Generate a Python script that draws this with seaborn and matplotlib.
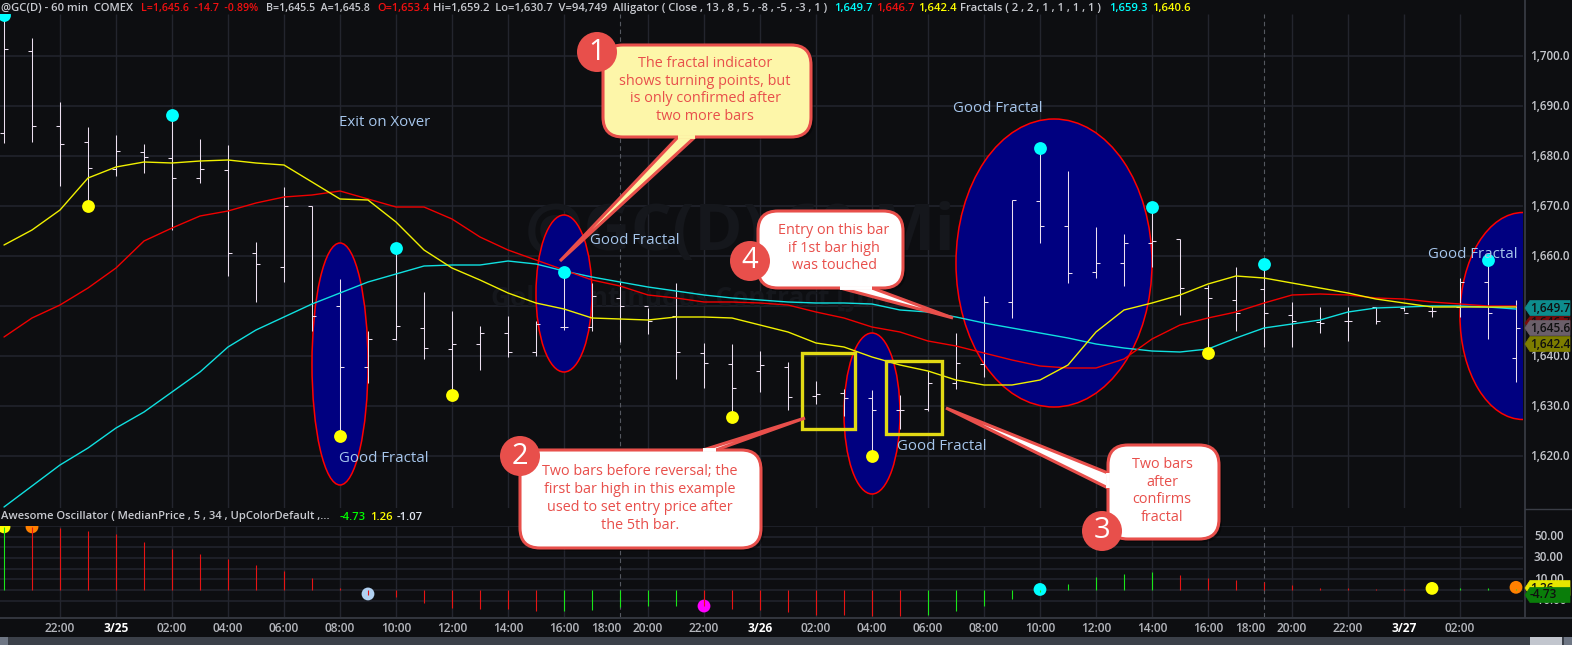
import numpy as np
import pandas as pd
import seaborn as sns
import matplotlib
matplotlib.use("Agg")
import matplotlib.pyplot as plt
from matplotlib.patches import Ellipse, FancyBboxPatch, Polygon, Circle, Rectangle

# ---------- data ----------
highs = [1708.2,1703.6,1690.8,1685.8,1684.3,1682.4,1688.2,1683.4,1682.2,1662.8,1673.8,1670,1655.4,1645,1661.6,1652.8,1649,1646,1648,1647,1656.8,1654.6,1654.8,1649.6,1654.6,1642.6,1642.4,1641,1638.8,1635,1633.4,1633.2,1632.2,1637,1644.6,1652,1671.2,1681.6,1677,1665.8,1664.4,1669.8,1663.4,1654.2,1657.8,1658.4,1650.8,1649.8,1649.8,1649.8,1650,1650,1655.6,1659.2,1651.2]
lows = [1682.6,1682.8,1674,1670,1676,1676.6,1665.2,1674.6,1656,1650.8,1654.8,1645,1624,1634.6,1643.2,1639.4,1632.2,1637.2,1639.8,1640,1645.2,1645,1642.8,1644.4,1635.4,1633.6,1627.8,1632.8,1629.2,1630.4,1628,1620,1625.4,1629,1633.4,1635.8,1647.6,1662.6,1654.6,1655.6,1654,1657.8,1648.2,1640.6,1645,1641.8,1641.8,1644.6,1643,1646.4,1649,1647.8,1647.8,1643.4,1634.8]
opens = [1684.6,1701,1686,1682.8,1677.4,1680.8,1679.6,1675.6,1677.2,1660.6,1657.8,1670,1650,1637.8,1643.4,1645.6,1641.4,1642.4,1644.6,1640.8,1645.8,1645.8,1651.6,1650,1648,1640.6,1638.4,1637,1637.8,1632,1632.6,1631.6,1629.2,1629.4,1634.6,1638.4,1650.8,1671,1666,1656.8,1658.6,1662.6,1663.4,1653.6,1651.2,1653.4,1648.2,1646.8,1647,1649.8,1649.6,1649,1649.8,1654.8,1639.6]
closes = [1701.4,1686,1682.5,1677.6,1681,1679.8,1675.6,1677.4,1660.6,1658.4,1670,1648,1637.8,1643.4,1646,1641.6,1642.4,1644.6,1640.8,1646.4,1645.8,1652,1650,1647,1640.8,1638.6,1633.6,1638.2,1631.8,1632.4,1631.6,1629.2,1629.2,1634.6,1638.6,1650.8,1671.2,1666,1656.6,1658.6,1662.6,1663,1653.6,1651.6,1648.6,1648.6,1647,1646.6,1647,1647,1648.6,1649,1654.8,1648.6,1645.6]
jaw = [1609.8,1614,1618.2,1621.6,1625.6,1628.8,1632.8,1636.8,1641.8,1645.2,1647.8,1650.4,1652.6,1654.8,1656.4,1658,1658.2,1658.2,1659,1658.4,1657,1655.8,1654.8,1653.8,1653,1652.2,1651.6,1651.2,1650.8,1650.6,1650.6,1650.4,1649.2,1648.8,1647.8,1646.6,1645.6,1644.6,1643.6,1642.4,1641.6,1641,1640.8,1641.4,1643.6,1645.6,1646.4,1647.2,1648.8,1649.6,1649.8,1650,1650,1649.8,1649.4]
teeth = [1643.8,1647.6,1650.2,1653.6,1657.6,1663,1665.6,1668,1669,1670.6,1671.8,1672.2,1673,1671.4,1669.8,1669.8,1667.4,1663.8,1661.2,1659.2,1657.2,1655.2,1654,1652.2,1651.6,1650.8,1650.8,1650.6,1650.2,1648.8,1647.6,1645.8,1644.8,1643,1642,1640.6,1639.2,1638,1637.6,1637.6,1639.4,1643.4,1646.2,1647.6,1648.8,1650.6,1652.2,1652.4,1652.2,1651.6,1651.4,1650.8,1650.4,1650,1650]
lips = [1662.2,1665.2,1669.2,1675.6,1677.8,1678.8,1678.6,1679,1679.2,1678.6,1678.2,1674.8,1671.4,1671.2,1666.8,1661.2,1657.6,1655.2,1652.6,1650.6,1649.4,1647.6,1647.4,1647.2,1647.8,1647.8,1647.6,1646.2,1644.8,1642.6,1641.8,1639.8,1638.2,1637,1635.2,1634.2,1634.2,1635.2,1638.2,1644.8,1649.2,1650.6,1652.2,1654.4,1656,1655.6,1654.6,1653.6,1652.6,1651.4,1650.6,1649.8,1649.8,1649.8,1649.8]
ao = [58.6,58.6,58,55.5,52,44.8,38.6,34,29.3,23,17.6,11.4,1.5,-4.6,-7,-11.7,-16.4,-17.3,-17.3,-20,-20,-19,-16,-15.4,-14.5,-15.4,-17.3,-19,-21,-23,-23,-24,-24,-23,-20,-15.4,-8,-2,6,11.7,14.8,16.4,13.9,10.8,9.3,7.7,4.6,2,1.8,0.9,0.6,0.3,1.8,1.8,1.3]
ao_green = [0,20,21,22,23,24,33,34,35,36,37,38,39,40,41,52,53,54]

high_fractal_i = [0,6,14,20,37,41,45,53]
high_fractal_p = [1708.2,1688.2,1661.6,1656.8,1681.6,1669.8,1658.4,1659.2]
low_fractal_i = [3,12,16,26,31,43]
low_fractal_p = [1670,1624,1632.2,1627.8,1620,1640.6]
ao_dot_i = [0,1,13,25,37,51,54]
ao_dot_v = [59,59,-3.7,-15,0.5,1.5,2.5]
ao_dot_c = ["#ffff00","#ff8000","#b0d0f0","#ff00ff","#00ffff","#ffff00","#ff8000"]

tick_pos = [2,4,6,8,10,12,14,16,18,20,21.5,23,25,27,29,31,33,35,37,39,41,43,44.5,46,48,50,52]
tick_lab = ["22:00","3/25","02:00","04:00","06:00","08:00","10:00","12:00","14:00","16:00","18:00","20:00","22:00","3/26","02:00","04:00","06:00","08:00","10:00","12:00","14:00","16:00","18:00","20:00","22:00","3/27","02:00"]
grid_x = [2,4,6,8,10,12,14,16,18,20,23,25,27,29,31,33,35,37,39,41,43,46,48,50,52]
session_x = [22,45]
price_ticks = [1620,1630,1640,1650,1660,1670,1680,1690,1700]
price_labels = ["1,620.0","1,630.0","1,640.0","","1,660.0","1,670.0","1,680.0","1,690.0","1,700.0"]
ao_grid = [-10,0,10,20,30,40,50,60]
ao_ticks = [50,30,10]
ao_labels = ["50.00","30.00","10.00"]

# ---------- styling ----------
W, H = 1572, 645
BG = "#0d0e11"
GRID = "#23252e"
BARC = "#ecdff0"
sns.set_theme(style="dark")
FONT = ["Open Sans", "DejaVu Sans"]
plt.rcParams["font.family"] = FONT

fig = plt.figure(figsize=(W/100, H/100), dpi=100, facecolor=BG)

def add_ax(l, t, r, b):
    return fig.add_axes([l/W, 1-b/H, (r-l)/W, (b-t)/H], facecolor=BG)

n = len(highs)
idx = np.arange(n)
xl = ((0-4)/28, (1523-4)/28)

# ---------- main panel ----------
ax = add_ax(0, 14, 1523, 508)
ax.set_xlim(*xl)
ax.set_ylim(1700-(508-56)/5, 1700-(14-56)/5)
for s in ax.spines.values():
    s.set_visible(False)
ax.set_xticks([]); ax.set_yticks([])
ax.hlines(price_ticks, *xl, color=GRID, lw=1.1, zorder=1)
ax.vlines(grid_x, *ax.get_ylim(), color=GRID, lw=1.0, zorder=1)
ax.vlines(session_x, *ax.get_ylim(), color="#555860", lw=0.8, ls=(0, (4, 3)), zorder=1)

# watermark
ax.text(18.6, 1664.5, "@GC(D) 60 Min", fontsize=47, fontweight="bold", color="#15171c",
        ha="left", va="center", zorder=1.2)
ax.text(17.4, 1651.6, "Gold Continuous Contract [Jun", fontsize=19, fontweight="bold", color="#15171c",
        ha="left", va="center", zorder=1.2)

# ellipses
for cx, cy, w, h in [(12, 1638.4, 2, 48.4), (20, 1652.5, 2, 31.4), (31, 1628.5, 2, 32.2),
                     (37.5, 1658.6, 7, 57.6), (54.25, 1648, 4.5, 41.4)]:
    ax.add_patch(Ellipse((cx, cy), w, h, facecolor="#000080", edgecolor="#ff0000", lw=1.1, zorder=2))

# OHLC bars
ax.vlines(idx, lows, highs, color=BARC, lw=0.75, zorder=3)
ax.hlines(opens, idx-0.16, idx, color=BARC, lw=0.75, zorder=3)
ax.hlines(closes, idx, idx+0.16, color=BARC, lw=0.75, zorder=3)

# alligator
df = pd.DataFrame({"i": idx, "jaw": jaw, "teeth": teeth, "lips": lips})
sns.lineplot(data=df, x="i", y="jaw", color="#10e0e0", lw=1.0, ax=ax, zorder=4)
sns.lineplot(data=df, x="i", y="teeth", color="#f00000", lw=1.0, ax=ax, zorder=4)
sns.lineplot(data=df, x="i", y="lips", color="#f0f000", lw=1.0, ax=ax, zorder=4)
ax.set_xlabel(""); ax.set_ylabel("")
ax.set_xticks([]); ax.set_yticks([])

# fractals
sns.scatterplot(x=high_fractal_i, y=high_fractal_p, color="#00ffff", s=85, linewidth=0, ax=ax, zorder=5)
sns.scatterplot(x=low_fractal_i, y=low_fractal_p, color="#ffff00", s=85, linewidth=0, ax=ax, zorder=5)
ax.set_xlim(*xl)

# ---------- oscillator panel ----------
ax2 = add_ax(0, 526, 1523, 617)
ax2.set_xlim(*xl)
ax2.set_ylim(-(617-590)/1.07, (590-526)/1.07)
for s in ax2.spines.values():
    s.set_visible(False)
ax2.set_yticks([])
ax2.hlines(ao_grid, *xl, color=GRID, lw=1.1, zorder=1)
ax2.vlines(grid_x, *ax2.get_ylim(), color=GRID, lw=1.0, zorder=1)
ax2.vlines(session_x, *ax2.get_ylim(), color="#555860", lw=0.8, ls=(0, (4, 3)), zorder=1)
ao_cols = ["#19e619" if i in ao_green else "#e61414" for i in idx]
ax2.vlines(idx, 0, ao, colors=ao_cols, lw=0.8, zorder=3)
ax2.scatter(ao_dot_i, ao_dot_v, c=ao_dot_c, s=85, linewidths=0, zorder=2.5)
ax2.set_xticks(tick_pos)
ax2.set_xticklabels([])
ax2.tick_params(axis="x", length=0)

# ---------- overlay in pixel coordinates ----------
ov = fig.add_axes([0, 0, 1, 1], facecolor="none")
ov.set_xlim(0, W); ov.set_ylim(H, 0); ov.axis("off")

# axis frame lines
ov.plot([1524.5, 1524.5], [0, 617], color="#3a3d46", lw=1.2, zorder=1)
ov.plot([0, W], [617.5, 617.5], color="#3a3d46", lw=1.2, zorder=1)
ov.plot([1524.5, W], [509, 509], color="#3a3d46", lw=1.0, zorder=1)

# scrollbar
ov.add_patch(Rectangle((0, 637), W, 8, facecolor="#3b4049", lw=0, zorder=1))
ov.add_patch(Rectangle((0, 637), 8, 8, facecolor="#6e7684", lw=0, zorder=1))
ov.add_patch(Rectangle((1530, 637), 32, 8, facecolor="#c2c6ce", lw=0, zorder=1))
ov.add_patch(Rectangle((1564, 637), 8, 8, facecolor="#6e7684", lw=0, zorder=1))

# time labels
for p, lab in zip(tick_pos, tick_lab):
    bold = "/" in lab
    ov.text(4+28*p, 628, lab, ha="center", va="center", fontsize=8.6,
            color="#ffffff" if bold else "#b4b6bc", fontweight="bold" if bold else "semibold")

# price labels
for p, lab in zip(price_ticks, price_labels):
    if lab:
        ov.text(1530, 56+(1700-p)*5, lab, ha="left", va="center", fontsize=8.4,
                color="#c4c6cc", fontweight="semibold")
for p, lab in zip(ao_ticks, ao_labels):
    ov.text(1534, 590-p*1.08, lab, ha="left", va="center", fontsize=8.4,
            color="#c4c6cc", fontweight="semibold")
ov.text(1534, 601, "-10.00", ha="left", va="center", fontsize=8.4, color="#c4c6cc", fontweight="semibold")

def tag(y, txt, fc, z, tc="#101010", h=15, right=1570, x0=1525):
    pts = [(x0, y), (x0+5, y-h/2), (right, y-h/2), (right, y+h/2), (x0+5, y+h/2)]
    ov.add_patch(Polygon(pts, closed=True, facecolor=fc, edgecolor=fc, lw=0.5, zorder=z))
    ov.text(1530, y, txt, ha="left", va="center", fontsize=8.6, color=tc, zorder=z+0.1, fontweight="semibold")

tag(308, "1,649.7", "#0d8d8d", 6)
tag(323, "1,646.7", "#7a0c0c", 6.2, h=13)
tag(328, "1,645.6", "#6b5f6a", 6.4)
tag(344, "1,642.4", "#7d7d00", 6.6)
tag(588, "1.26", "#e6e600", 6)
tag(595, "-4.73", "#0a7d0a", 6.2)

# header
HY = 8.5
def hd(x, s, c, fs=8.1):
    ov.text(x, HY, s, ha="left", va="center", fontsize=fs, color=c, fontweight="semibold", zorder=8)
G = "#c8cad0"
hd(1, "@GC(D) - 60 min  COMEX", G)
hd(141, "L=1,645.6  -14.7  -0.89%", "#f01010", 7.7)
hd(266, "B=1,645.5  A=1,645.8", G, 7.7)
hd(377, "O=1,653.4", "#f01010", 7.9)
hd(433, "Hi=1,659.2  Lo=1,630.7  V=94,749  Alligator ( Close , 13 , 8 , 5 , -8 , -5 , -3 , 1 )", G)
hd(834, "1,649.7", "#00ffff")
hd(876, "1,646.7", "#f01010")
hd(918, "1,642.4", "#ffff00")
hd(960, "Fractals ( 2 , 2 , 1 , 1 , 1 , 1 )", G)
hd(1109, "1,659.3", "#00ffff")
hd(1152, "1,640.6", "#ffff00")
HY = 517
hd(1, "Awesome Oscillator ( MedianPrice , 5 , 34 , UpColorDefault ,...", G)
hd(340, "-4.73", "#00ff00")
hd(370, "1.26", "#ffff00")
hd(397, "-1.07", "#e0e6f0")

# light-blue notes
NOTE = "#a6c6ec"
for x, y, s in [(339, 459, "Good Fractal"), (590, 241, "Good Fractal"), (953, 109, "Good Fractal"),
                (897, 447, "Good Fractal"), (1428, 254, "Good Fractal"), (339, 122, "Exit on Xover")]:
    ov.text(x, y, s, ha="left", va="center", fontsize=10.8, color=NOTE, zorder=6)

# yellow rectangles
for x0, y0, x1, y1 in [(802, 353, 855, 429), (886, 361, 942, 434)]:
    ov.add_patch(Rectangle((x0, y0), x1-x0, y1-y0, fill=False, edgecolor="#e2da14", lw=2.4, zorder=6))

RED = "#e84f4b"
def callout(x0, y0, x1, y1, fc, tail, badge, num, txt, tx, ty, rad=20):
    ov.add_patch(FancyBboxPatch((x0+3, y0+3), x1-x0, y1-y0, boxstyle=f"round,pad=0,rounding_size={rad}",
                                facecolor="#000000", alpha=0.35, lw=0, zorder=8))
    ov.add_patch(Polygon(tail, closed=True, facecolor=fc, edgecolor=RED, lw=2.2, joinstyle="miter", zorder=9))
    ov.add_patch(FancyBboxPatch((x0, y0), x1-x0, y1-y0, boxstyle=f"round,pad=0,rounding_size={rad}",
                                facecolor=fc, edgecolor=RED, lw=2.2, zorder=10))
    base = [p for p in tail if x0-1 <= p[0] <= x1+1 and y0-1 <= p[1] <= y1+1]
    if len(base) == 2:
        ov.plot([p[0] for p in base], [p[1] for p in base], color=fc, lw=2.8, zorder=11, solid_capstyle="butt")
    ov.text(tx, ty, txt, ha="center", va="center", fontsize=10.4, color=RED, linespacing=1.26, zorder=12)
    ov.add_patch(Circle(badge, 20, facecolor=RED, edgecolor="none", zorder=13))
    ov.text(badge[0], badge[1], num, ha="center", va="center", fontsize=21, color="#ffffff", zorder=14)

callout(603, 45, 811, 137, "#fdf6a9", [(678, 137), (695, 137), (560, 261)], (597, 52), "1",
        "The fractal indicator\nshows turning points, but\nis only confirmed after\ntwo more bars", 705, 90)
callout(520, 450, 761, 548, "#ffffff", [(703, 450), (716, 450), (805, 418)], (520, 456), "2",
        "Two bars before reversal; the\nfirst bar high in this example\nused to set entry price after\nthe 5th bar.", 640, 498.5)
callout(1108, 445, 1219, 539, "#ffffff", [(1108, 473), (1108, 488), (946, 408)], (1102, 531), "3",
        "Two bars\nafter\nconfirms\nfractal", 1162, 491)
callout(758, 211, 903, 288, "#ffffff", [(840, 288), (872, 288), (953, 318)], (750, 261), "4",
        "Entry on this bar\nif 1st bar high\nwas touched", 834, 248)

fig.savefig("out.png", dpi=100, facecolor=BG)
